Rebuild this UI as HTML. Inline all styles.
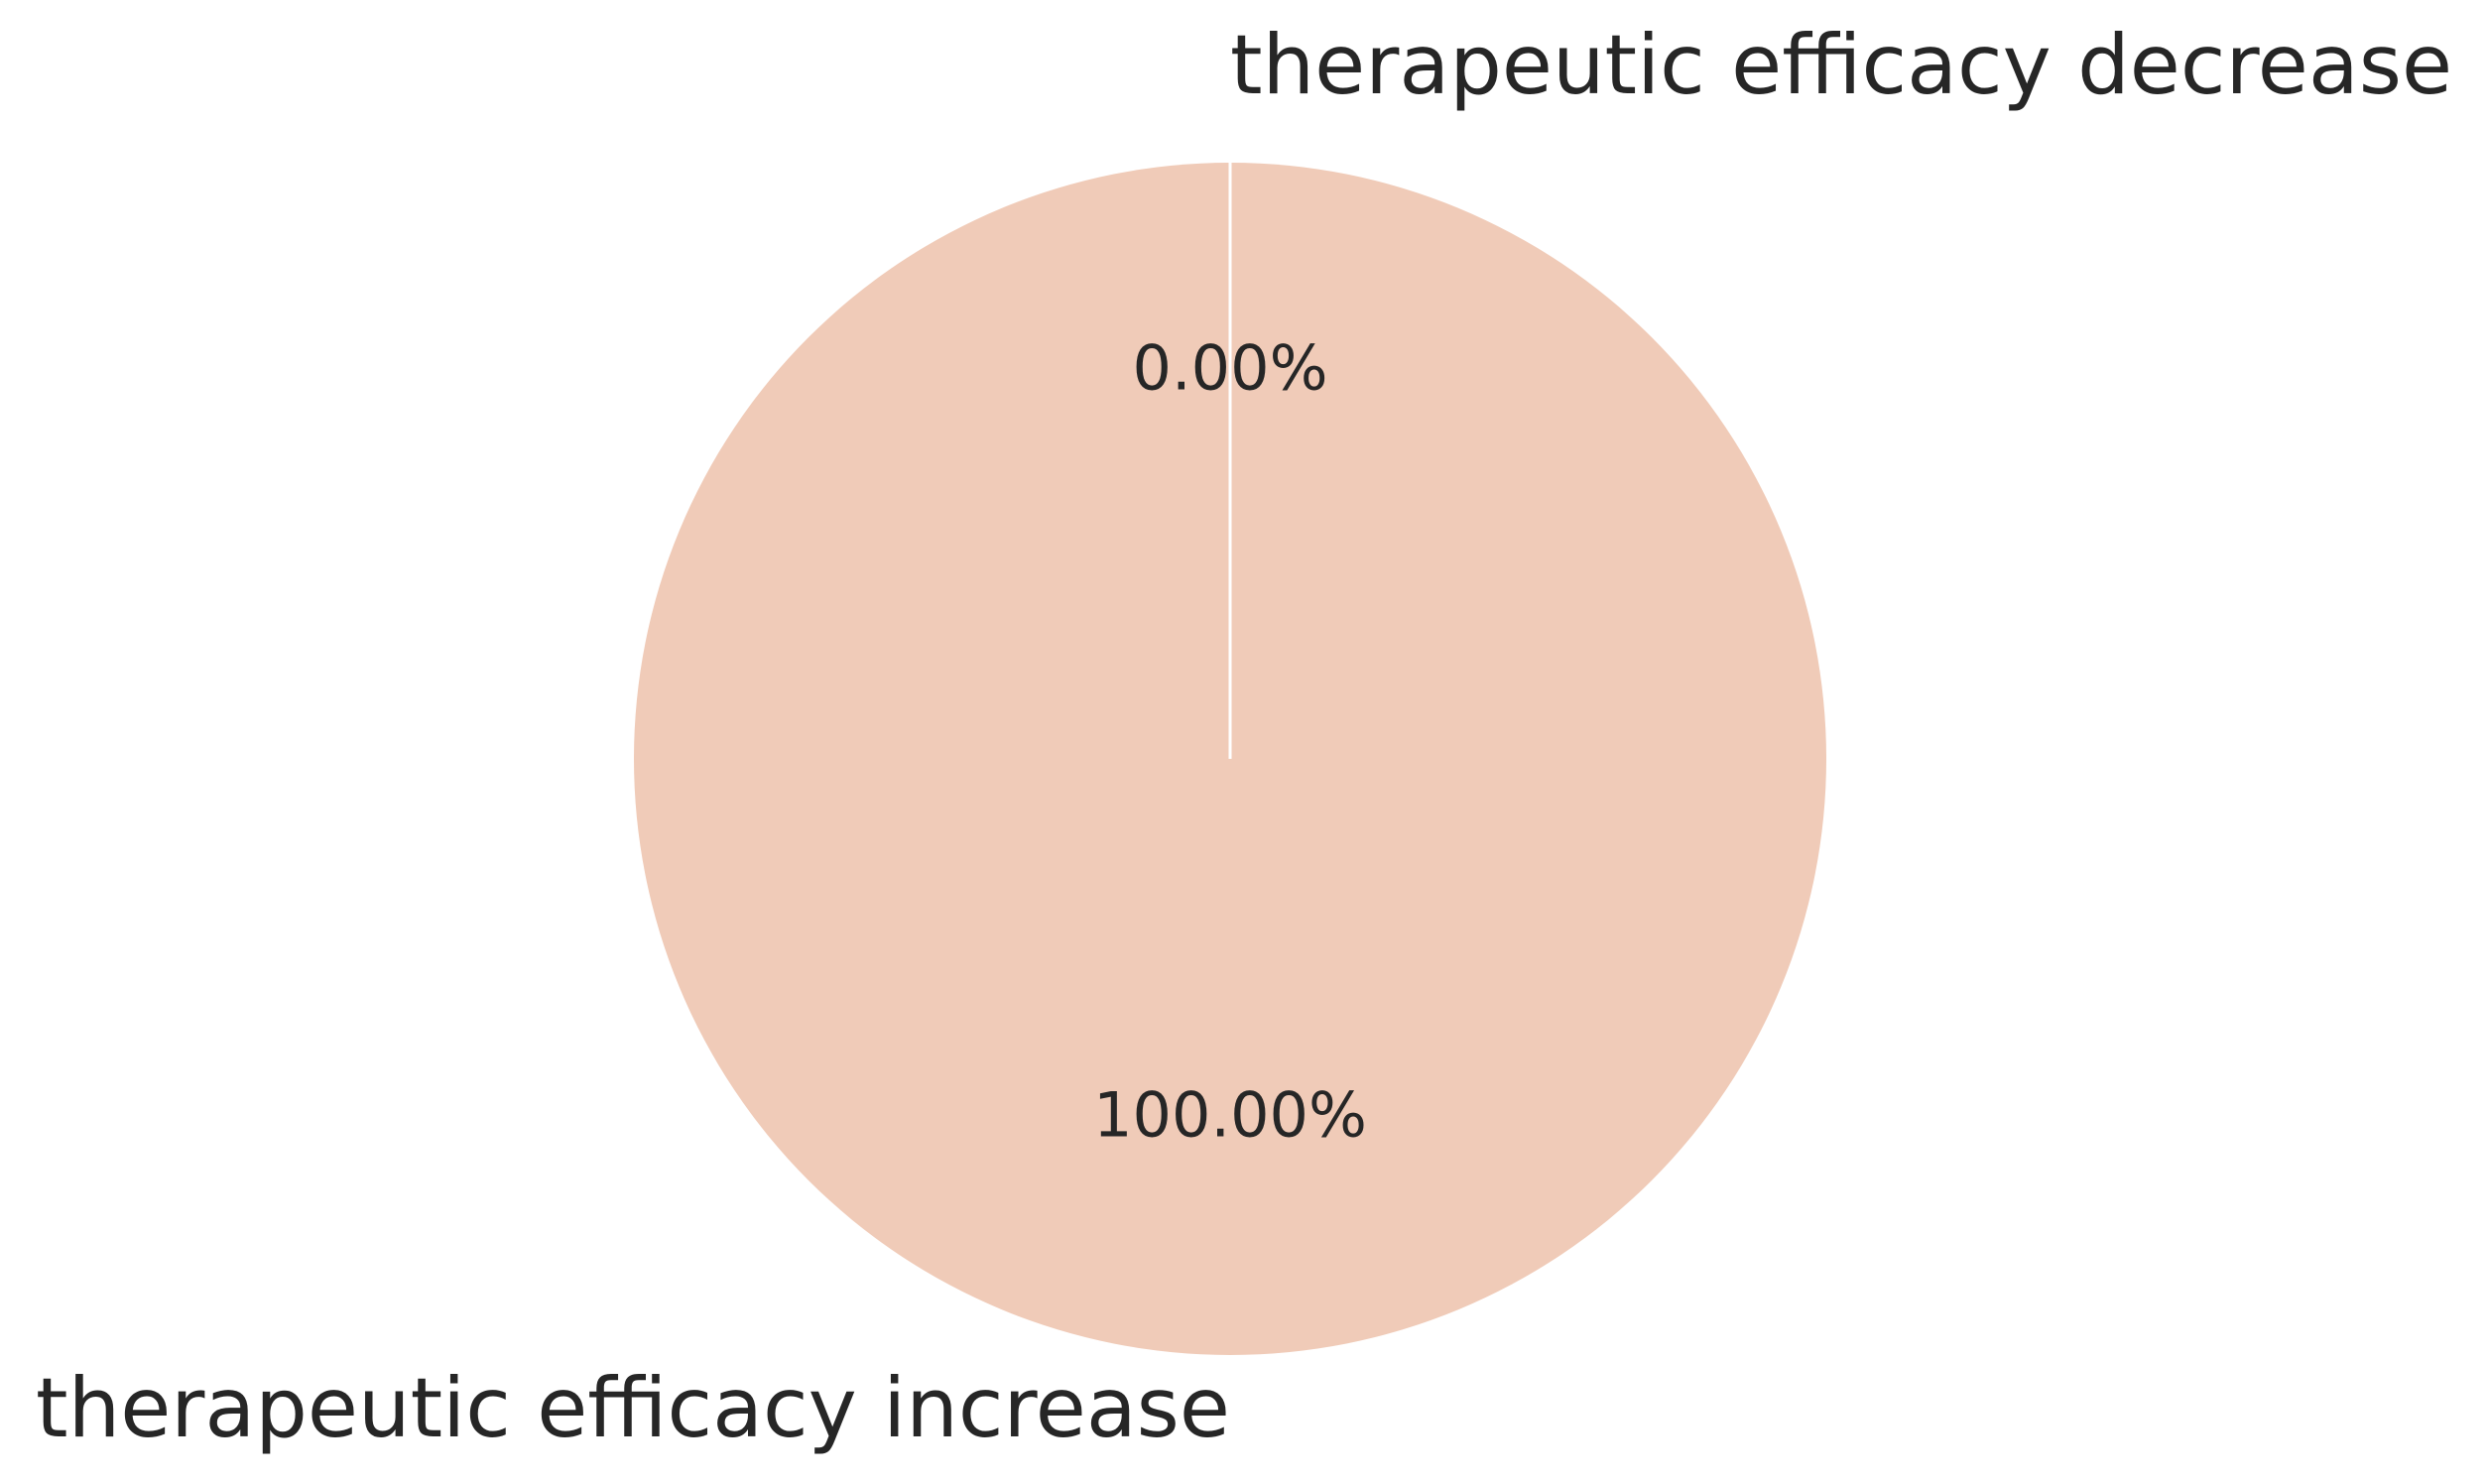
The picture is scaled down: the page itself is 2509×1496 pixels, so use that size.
<!DOCTYPE html>
<html><head><meta charset="utf-8"><style>html,body{margin:0;padding:0;background:#fff}svg{display:block}</style></head>
<body>
<svg id="chart" width="2509" height="1496" viewBox="0 0 2509 1496" xmlns="http://www.w3.org/2000/svg" font-family="'DejaVu Sans','Liberation Sans',sans-serif"></svg>
<script>
const categories = ["therapeutic efficacy decrease", "therapeutic efficacy increase"];
const values = [0, 100];
const colors = ["#f0cbb8", "#f0cbb8"];
const svg = document.getElementById('chart');
const NS = "http://www.w3.org/2000/svg";
const cx = 1240, cy = 765, R = 601;
const total = values.reduce((a,b)=>a+b,0);
function pt(deg, r){const a=deg*Math.PI/180;return [cx+r*Math.cos(a), cy-r*Math.sin(a)];}
let start = 90;
const edges = [];
values.forEach((v,i)=>{
  const sweep = v/total*360;
  const end = start+sweep;
  let el;
  if (sweep >= 359.999) {
    el = document.createElementNS(NS,'circle');
    el.setAttribute('cx',cx);el.setAttribute('cy',cy);el.setAttribute('r',R);
  } else if (sweep > 0) {
    el = document.createElementNS(NS,'path');
    const [x1,y1]=pt(start,R),[x2,y2]=pt(end,R);
    el.setAttribute('d',`M${cx},${cy}L${x1},${y1}A${R},${R} 0 ${sweep>180?1:0} 0 ${x2},${y2}Z`);
  }
  if (el) {
    el.setAttribute('fill',colors[i]);
    
    
    svg.appendChild(el);
  }
  edges.push(start, end);
  const mid = (start+end)/2;
  const [lx,ly] = pt(mid, R*1.1);
  const up = Math.sin(mid*Math.PI/180)>0;
  const lab = document.createElementNS(NS,'text');
  lab.setAttribute('x',lx);
  lab.setAttribute('y',ly + (up?-10:22));
  lab.setAttribute('font-size','83');
  lab.setAttribute('fill','#262626');
  lab.setAttribute('text-anchor', Math.cos(mid*Math.PI/180) > 0 ? 'start' : 'end');
  
  
  lab.textContent = categories[i];
  svg.appendChild(lab);
  start = end;
});
[...new Set(edges.map(e=>((e%360)+360)%360))].forEach(a=>{
  const [x,y]=pt(a,R);
  const ln=document.createElementNS(NS,'line');
  ln.setAttribute('x1',cx);ln.setAttribute('y1',cy);ln.setAttribute('x2',x);ln.setAttribute('y2',y);
  ln.setAttribute('stroke','#fff');ln.setAttribute('stroke-width','3');
  
  
  svg.appendChild(ln);
});
start = 90;
values.forEach((v,i)=>{
  const sweep=v/total*360, mid=start+sweep/2;
  const [px,py]=pt(mid,R*0.6);
  const s=Math.sin(mid*Math.PI/180);
  const t=document.createElementNS(NS,'text');
  t.setAttribute('x',px);t.setAttribute('y',py+4-16*s);
  t.setAttribute('font-size','62');t.setAttribute('fill','#262626');
  t.setAttribute('text-anchor','middle');
  
  
  t.textContent=(v/total*100).toFixed(2)+'%';
  svg.appendChild(t);
  start+=sweep;
});
</script>
</body></html>
